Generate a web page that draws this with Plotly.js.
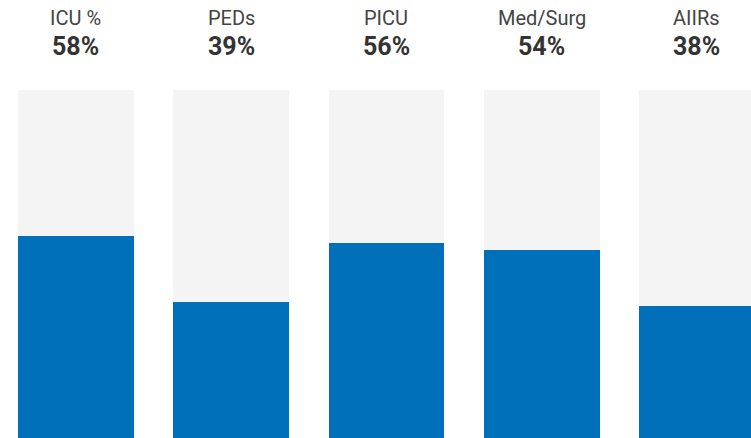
<!DOCTYPE html>
<html><head><meta charset="utf-8">
<script src="https://cdn.plot.ly/plotly-3.0.1.min.js"></script>
<style>html,body{margin:0;padding:0;background:#fff;}#chart{width:751px;height:438px;}</style>
</head><body><div id="chart"></div>
<script>
const categories = ["ICU %", "PEDs", "PICU", "Med/Surg", "AIIRs"];
const values = [58, 39, 56, 54, 38];
const totals = [100, 100, 100, 100, 100];

const xs = categories.map((c, i) => i);
const traces = [
  {type: 'bar', x: xs, y: totals, width: 0.747, marker: {color: '#f4f4f4'}, hoverinfo: 'skip'},
  {type: 'bar', x: xs, y: values, width: 0.747, marker: {color: '#0070bb'}, hoverinfo: 'skip'}
];
const annotations = [];
categories.forEach((c, i) => {
  annotations.push({x: i, xref: 'x', y: 1.207, yref: 'paper', text: c, showarrow: false,
    xanchor: 'center', yanchor: 'middle', font: {family: 'Roboto', size: 20, color: '#444'}});
  annotations.push({x: i, xref: 'x', y: 1.126, yref: 'paper', text: '<b>' + values[i] + '%</b>', showarrow: false,
    xanchor: 'center', yanchor: 'middle', font: {family: 'Roboto', size: 25, color: '#333'}});
});
const layout = {
  width: 751, height: 438,
  margin: {l: 0, r: 0, t: 90, b: 0, pad: 0},
  barmode: 'overlay', bargap: 0,
  showlegend: false,
  paper_bgcolor: '#fff', plot_bgcolor: '#fff',
  xaxis: {range: [-0.4895, 4.348], visible: false, fixedrange: true},
  yaxis: {range: [0, 100], visible: false, fixedrange: true},
  annotations: annotations
};
Plotly.newPlot('chart', traces, layout, {displayModeBar: false, staticPlot: true});
</script></body></html>
